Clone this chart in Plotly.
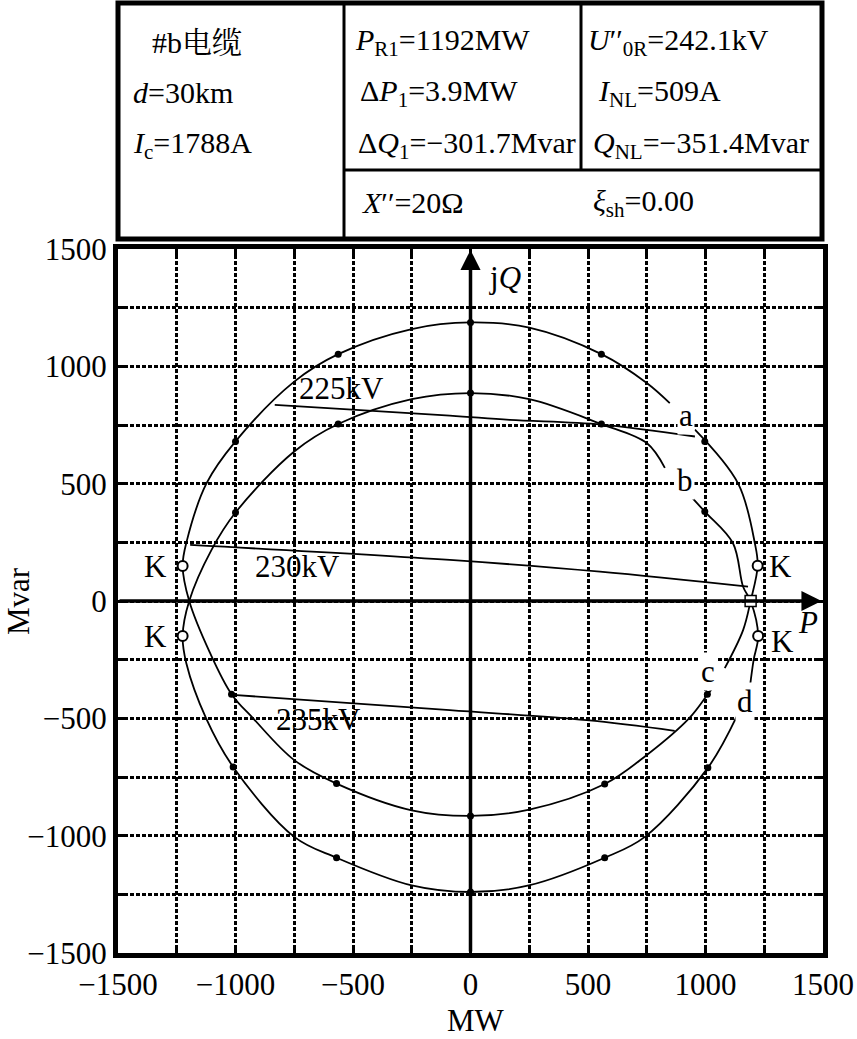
import plotly.graph_objects as go

FONT = "Liberation Serif, Times New Roman, Noto Serif CJK SC, Noto Sans CJK SC, serif"

# ---------------- data ----------------
tick_vals = [-1500, -1250, -1000, -750, -500, -250, 0, 250, 500, 750, 1000, 1250, 1500]
tick_text = ['−1500', '', '−1000', '', '−500', '', '0', '', '500', '', '1000', '', '1500']

# curve a -> c (outer upper arc a, inner lower arc c), split at the label gaps
ac1_x = [1082, 1160, 1192, 1222, 1210, 1139, 955]
ac1_y = [-286, -124, 0, 150, 246, 500, 730]
ac2_x = [848, 750, 557, 250, 0, -250, -563, -750, -1000, -1123, -1208, -1225, -1197,
         -1109, -1017, -925, -750, -570, -250, 0, 250, 571, 749, 930, 1010, 1040]
ac2_y = [843, 929, 1052, 1165, 1187, 1159, 1052, 935, 680, 502, 253, 149, 0,
         -220, -397, -500, -678, -778, -892, -916, -889, -780, -657, -500, -397, -358]

# curve b -> d (inner upper arc b, outer lower arc d), split at the label gaps
bd1_x = [926, 997, 1117, 1160, 1192, 1224, 1205, 1189]
bd1_y = [459, 381, 246, 61, 0, -149, -250, -366]
bd2_x = [1132, 1010, 742, 571, 248, 0, -250, -570, -750, -1010, -1125, -1209, -1225,
         -1197, -1102, -1000, -750, -563, -250, 0, 250, 557, 750, 827]
bd2_y = [-494, -711, -1005, -1094, -1212, -1240, -1212, -1094, -1005, -707, -500, -266, -149,
         0, 218, 377, 637, 754, 860, 886, 860, 754, 673, 567]

# constant-voltage lines
v225_x = [-833, -88, 167, 557, 955]
v225_y = [836, 790, 772, 752, 701]
v230_x = [-1193, -88, 551, 1181]
v230_y = [239, 175, 125, 61]
v235_x = [-1010, -88, 494, 869]
v235_y = [-400, -465, -508, -553]

# marked points
dots_x = [0, 557, -563, 997, -1000, 0, 557, -563, 997, -1000,
          1008, -1017, 571, -570, 0, 1010, -1010, 571, -570, 0]
dots_y = [1187, 1052, 1052, 680, 680, 886, 754, 754, 381, 377,
          -397, -397, -780, -778, -916, -711, -707, -1094, -1094, -1240]
k_x = [-1225, -1225, 1222, 1224]
k_y = [149, -149, 150, -149]
sq_x = [1192]
sq_y = [0]

# text labels (data coordinates)
volt_labels = ['225kV', '230kV', '235kV']
volt_lx = [-547, -738, -646]
volt_ly = [904, 149, -504]
curve_labels = ['a', 'b', 'c', 'd']
curve_lx = [917, 912, 1011, 1168]
curve_ly = [789, 512, -302, -430]
k_lx = [-1339, -1339, 1320, 1329]
k_ly = [145, -152, 149, -171]

table_text = ['#b电缆', '<i>d</i>=30km', '<i>I</i><sub>c</sub>=1788A',
              '<i>P</i><sub>R1</sub>=1192MW', 'Δ<i>P</i><sub>1</sub>=3.9MW',
              'Δ<i>Q</i><sub>1</sub>=−301.7Mvar', '<i>X</i>′′=20Ω',
              '<i>U</i>′′<sub>0R</sub>=242.1kV', '<i>I</i><sub>NL</sub>=509A',
              '<i>Q</i><sub>NL</sub>=−351.4Mvar', '<i>ξ</i><sub>sh</sub>=0.00']

# ---------------- layout helpers ----------------
W, H = 857, 1039
ML, MR, MT, MB = 118, 34, 249, 86
PW = W - ML - MR
PH = H - MT - MB


def px(x):
    return (x - ML) / PW


def py(y):
    return (H - MB - y) / PH


table_px = [150, 131, 131, 353, 358, 356, 360, 586, 596, 591, 591]
table_py = [42, 93, 145, 42, 93, 145, 203, 42, 93, 145, 203]

fig = go.Figure()

LW = 1.8
for xs, ys in [(ac1_x, ac1_y), (ac2_x, ac2_y), (bd1_x, bd1_y), (bd2_x, bd2_y),
               (v225_x, v225_y), (v230_x, v230_y), (v235_x, v235_y)]:
    fig.add_trace(go.Scatter(x=xs, y=ys, mode='lines',
                             line=dict(color='black', width=LW, shape='spline', smoothing=1),
                             hoverinfo='skip', showlegend=False))

fig.add_trace(go.Scatter(x=dots_x, y=dots_y, mode='markers',
                         marker=dict(color='black', size=7), showlegend=False))
fig.add_trace(go.Scatter(x=k_x, y=k_y, mode='markers',
                         marker=dict(color='white', size=10, symbol='circle',
                                     line=dict(color='black', width=2)), showlegend=False))
fig.add_trace(go.Scatter(x=sq_x, y=sq_y, mode='markers',
                         marker=dict(color='white', size=11, symbol='square',
                                     line=dict(color='black', width=1.5)), showlegend=False))

annotations = []
# axes arrows
annotations.append(dict(x=1494, y=0, ax=-1500, ay=0, xref='x', yref='y', axref='x', ayref='y',
                        text='', showarrow=True, arrowhead=2, arrowsize=1.15, arrowwidth=3.5,
                        arrowcolor='black', standoff=0, startstandoff=0))
annotations.append(dict(x=0, y=1496, ax=0, ay=-1500, xref='x', yref='y', axref='x', ayref='y',
                        text='', showarrow=True, arrowhead=2, arrowsize=1.15, arrowwidth=3.5,
                        arrowcolor='black', standoff=0, startstandoff=0))

TF = dict(family=FONT, size=31, color='black')
for t, x, y in zip(volt_labels, volt_lx, volt_ly):
    annotations.append(dict(x=x, y=y, xref='x', yref='y', text=t, showarrow=False, font=TF))
for t, x, y in zip(curve_labels, curve_lx, curve_ly):
    annotations.append(dict(x=x, y=y, xref='x', yref='y', text=t, showarrow=False, font=TF,
                            bgcolor='white', borderpad=1))
for x, y in zip(k_lx, k_ly):
    annotations.append(dict(x=x, y=y, xref='x', yref='y', text='K', showarrow=False, font=TF))
annotations.append(dict(x=146, y=1378, xref='x', yref='y', text='j<i>Q</i>', showarrow=False, font=TF))
annotations.append(dict(x=1435, y=-90, xref='x', yref='y', text='<i>P</i>', showarrow=False, font=TF))

# axis titles
annotations.append(dict(x=px(476), y=py(1020), xref='paper', yref='paper', text='MW',
                        xanchor='center', yanchor='middle', showarrow=False, font=TF))
annotations.append(dict(x=px(18), y=py(601), xref='paper', yref='paper', text='Mvar',
                        xanchor='center', yanchor='middle', textangle=-90, showarrow=False, font=TF))

# table text
TBF = dict(family=FONT, size=30, color='black')
for t, x, y in zip(table_text, table_px, table_py):
    annotations.append(dict(x=px(x), y=py(y), xref='paper', yref='paper', text=t,
                            xanchor='left', yanchor='middle', showarrow=False, font=TBF))

shapes = []
shapes.append(dict(type='rect', xref='paper', yref='paper', x0=px(118), x1=px(822),
                   y0=py(3), y1=py(239), line=dict(color='black', width=5)))
for x0, y0, x1, y1 in [(344, 3, 344, 239), (581, 3, 581, 170), (344, 170, 822, 170)]:
    shapes.append(dict(type='line', xref='paper', yref='paper', x0=px(x0), y0=py(y0),
                       x1=px(x1), y1=py(y1), line=dict(color='black', width=3)))

axis_common = dict(range=[-1500, 1500], tickvals=tick_vals, ticktext=tick_text,
                   showgrid=True, gridcolor='black', gridwidth=3, griddash='4px,2px',
                   zeroline=False, showline=True, linewidth=5, linecolor='black',
                   mirror='ticks', ticks='inside', ticklen=6, tickwidth=3, tickcolor='black',
                   tickfont=dict(family=FONT, size=31, color='black'), fixedrange=True,
                   automargin=False)

fig.update_layout(width=W, height=H, margin=dict(l=ML, r=MR, t=MT, b=MB, autoexpand=False),
                  paper_bgcolor='white', plot_bgcolor='white',
                  xaxis=axis_common, yaxis=axis_common,
                  annotations=annotations, shapes=shapes, showlegend=False)

fig.write_html('out.html', config={'displayModeBar': False},
               post_script="document.body.style.margin='0';document.body.style.overflow='hidden';")
